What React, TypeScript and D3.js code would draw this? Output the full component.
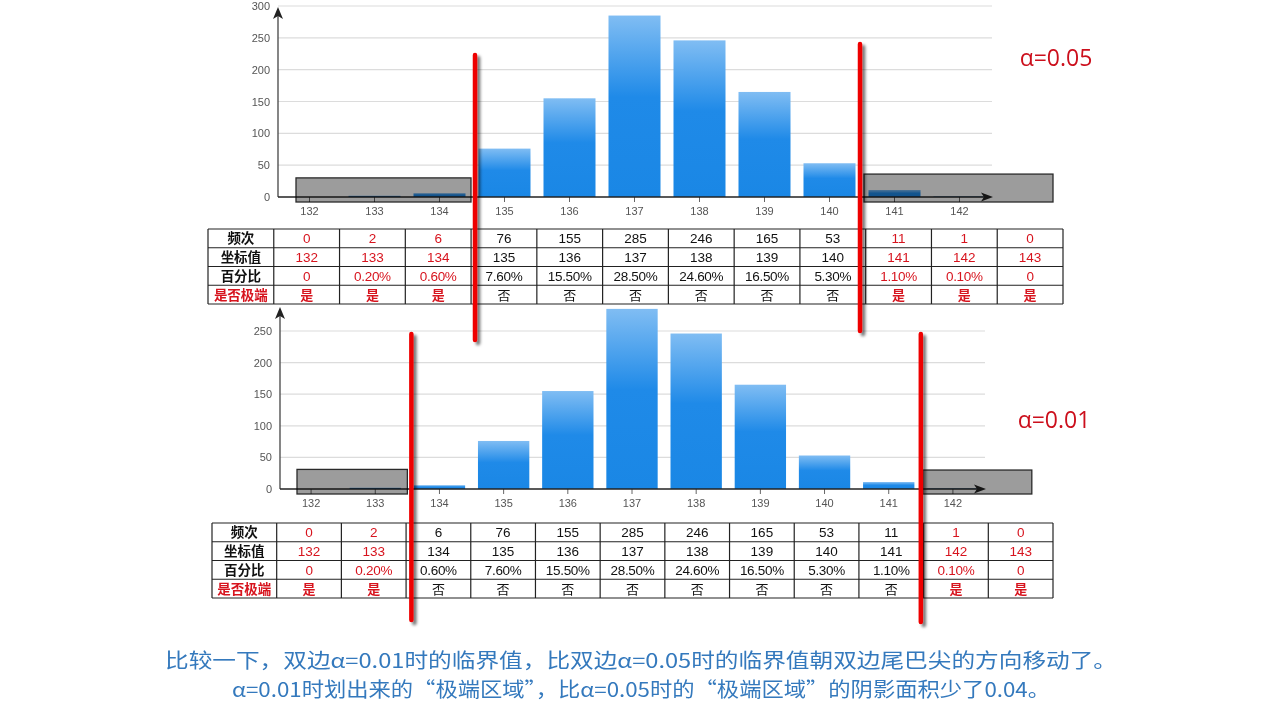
import React from 'react';
import * as d3 from 'd3';

// chart data
const categories = ['132', '133', '134', '135', '136', '137', '138', '139', '140', '141', '142'];
const tableValues = ['132', '133', '134', '135', '136', '137', '138', '139', '140', '141', '142', '143'];
const freq = [0, 2, 6, 76, 155, 285, 246, 165, 53, 11, 1, 0];
const percents = ['0', '0.20%', '0.60%', '7.60%', '15.50%', '28.50%', '24.60%', '16.50%', '5.30%', '1.10%', '0.10%', '0'];
const extremeTop = [1, 1, 1, 0, 0, 0, 0, 0, 0, 1, 1, 1];
const extremeBottom = [1, 1, 0, 0, 0, 0, 0, 0, 0, 0, 1, 1];
const rowLabels = ['频次', '坐标值', '百分比', '是否极端'];
const yTicksTop = [0, 50, 100, 150, 200, 250, 300];
const yTicksBottom = [0, 50, 100, 150, 200, 250];

const RED = '#d7141e';
const TXT = '#111';
const CJK = '"Noto Sans CJK SC", "Noto Sans", sans-serif';
const LAT = '"Liberation Sans", Arial, sans-serif';

type PanelProps = {
  range: [number, number];
  base: number;
  top300: number;
  ticks: number[];
  arrowTop: number;
  leftCut: number; // index of first non-extreme category
  rightCut: number; // index of first extreme category on the right
  leftNudge: number;
  boxTop: number;
  rightBoxTop: number;
  leftBoxStart: number;
  rightBoxWidth: number;
};

const Panel = (p: PanelProps) => {
  const x = d3.scaleBand<string>().domain(categories).range(p.range).paddingInner(0.2).paddingOuter(0.1);
  const y = d3.scaleLinear().domain([0, 300]).range([p.base, p.top300]);
  const xb = d3.scaleBand<string>().domain(categories).range(p.range);
  const axisX = p.range[0] + 1;
  const leftX = (xb(categories[p.leftCut]) as number) + p.leftNudge;
  const rightX = xb(categories[p.rightCut]) as number;
  return (
    <g>
      {p.ticks.filter(t => t > 0).map(t => (
        <line key={t} x1={axisX} x2={p.range[1]} y1={y(t)} y2={y(t)} stroke="#dcdcdc" strokeWidth={1.2} />
      ))}
      {p.ticks.map(t => (
        <text key={t} x={axisX - 8} y={y(t) + 4} textAnchor="end" fontSize={11} fill="#555" fontFamily={LAT}>{t}</text>
      ))}
      {categories.map((c, i) => (
        <rect key={c} x={x(c)} y={y(freq[i])} width={x.bandwidth()} height={p.base - y(freq[i])} fill="url(#barGrad)" />
      ))}
      {categories.map(c => (
        <g key={c}>
          <line x1={(xb(c) as number) + xb.bandwidth() / 2} x2={(xb(c) as number) + xb.bandwidth() / 2} y1={p.base} y2={p.base + 5} stroke="#666" />
          <text x={(xb(c) as number) + xb.bandwidth() / 2} y={p.base + 18} textAnchor="middle" fontSize={11} fill="#555" fontFamily={LAT}>{c}</text>
        </g>
      ))}
      {/* y axis with arrow */}
      <line x1={axisX} x2={axisX} y1={p.base} y2={p.arrowTop + 6} stroke="#444" strokeWidth={1.3} />
      <path d={`M${axisX},${p.arrowTop} L${axisX - 5},${p.arrowTop + 12} L${axisX},${p.arrowTop + 9} L${axisX + 5},${p.arrowTop + 12} Z`} fill="#222" />
      {/* x axis with arrow */}
      <line x1={axisX} x2={p.range[1] - 4} y1={p.base} y2={p.base} stroke="#222" strokeWidth={1.3} />
      <path d={`M${p.range[1] + 1},${p.base} L${p.range[1] - 11},${p.base - 4.5} L${p.range[1] - 8},${p.base} L${p.range[1] - 11},${p.base + 4.5} Z`} fill="#222" />
      {/* shaded extreme regions */}
      <rect x={p.range[0] + p.leftBoxStart} y={y(p.boxTop)} width={leftX - 4 - p.range[0] - p.leftBoxStart} height={p.base + 5 - y(p.boxTop)}
        fill="#9c9c9c" stroke="#2a2a2a" strokeWidth={1.3} style={{ mixBlendMode: 'multiply' }} />
      <rect x={rightX + 2} y={y(p.rightBoxTop)} width={p.rightBoxWidth} height={p.base + 5 - y(p.rightBoxTop)}
        fill="#9c9c9c" stroke="#2a2a2a" strokeWidth={1.3} style={{ mixBlendMode: 'multiply' }} />
    </g>
  );
};

const CritLines = ({ xs, tops, bottoms }: { xs: number[]; tops: number[]; bottoms: number[] }) => (
  <g filter="url(#redShadow)">
    {xs.map((xv, i) => (
      <line key={i} x1={xv} x2={xv} y1={tops[i]} y2={bottoms[i]} stroke="#ee0000" strokeWidth={4.5} strokeLinecap="round" />
    ))}
  </g>
);

type TableProps = { left: number; right: number; top: number; extreme: number[] };

const Table = ({ left, right, top, extreme }: TableProps) => {
  const cols = d3.range(13);
  const x = d3.scaleBand<number>().domain(cols).range([left, right]);
  const rowH = 18.75;
  const rows = [freq.map(String), tableValues, percents, extreme.map(e => (e ? '是' : '否'))];
  const bottom = top + rowH * 4;
  return (
    <g>
      {d3.range(5).map(r => (
        <line key={'h' + r} x1={left} x2={right} y1={top + r * rowH} y2={top + r * rowH} stroke="#222" strokeWidth={1.2} />
      ))}
      {d3.range(14).map(c => (
        <line key={'v' + c} x1={left + c * x.bandwidth()} x2={left + c * x.bandwidth()} y1={top} y2={bottom} stroke="#222" strokeWidth={1.2} />
      ))}
      {rowLabels.map((lab, r) => (
        <text key={lab} x={(x(0) as number) + x.bandwidth() / 2} y={top + r * rowH + rowH / 2 + 5} textAnchor="middle"
          fontSize={13.5} fontWeight="bold" fontFamily={CJK} fill={r === 3 ? RED : TXT}>{lab}</text>
      ))}
      {rows.map((row, r) => row.map((v, i) => (
        <text key={r + '-' + i} x={(x(i + 1) as number) + x.bandwidth() / 2} y={top + r * rowH + rowH / 2 + 5} textAnchor="middle"
          fontSize={r === 3 ? 13 : 13.5} fontFamily={r === 3 ? CJK : LAT}
          fontWeight={r === 3 && extreme[i] ? 'bold' : 'normal'}
          fill={extreme[i] ? RED : TXT} letterSpacing={r === 2 ? -0.3 : 0}>{v}</text>
      )))}
    </g>
  );
};

export default function App() {
  // critical line positions follow the category boundaries of each chart
  const topBand = d3.scaleBand<string>().domain(categories).range([277, 992]);
  const botBand = d3.scaleBand<string>().domain(categories).range([279, 985]);
  const topL = (topBand('135') as number) + 3;
  const topR = (topBand('141') as number) - 2;
  const botL = (botBand('134') as number) + 4;
  const botR = botBand('142') as number;
  return (
    <div style={{ position: 'fixed', left: 0, top: 0, width: 1280, height: 720, background: '#fff' }}>
      <svg width={1280} height={720} style={{ display: 'block' }}>
        <defs>
          <linearGradient id="barGrad" x1="0" y1="0" x2="0" y2="1">
            <stop offset="0" stopColor="#80bdf3" />
            <stop offset="0.45" stopColor="#1f8ae8" />
            <stop offset="1" stopColor="#1a87e5" />
          </linearGradient>
          <filter id="redShadow" x="-200%" y="-10%" width="500%" height="120%">
            <feDropShadow dx={3} dy={3} stdDeviation={1.6} floodColor="#000" floodOpacity={0.55} />
          </filter>
        </defs>
        <rect width={1280} height={720} fill="#fff" />

        <Panel range={[277, 992]} base={197} top300={6} ticks={yTicksTop} arrowTop={7}
          leftCut={3} rightCut={9} leftNudge={3} boxTop={30} rightBoxTop={36} leftBoxStart={19} rightBoxWidth={189} />
        <Table left={208} right={1063} top={229} extreme={extremeTop} />

        <Panel range={[279, 985]} base={489} top300={299.4} ticks={yTicksBottom} arrowTop={307}
          leftCut={2} rightCut={10} leftNudge={4} boxTop={31} rightBoxTop={30} leftBoxStart={18} rightBoxWidth={109} />
        <Table left={212} right={1053} top={523} extreme={extremeBottom} />

        <CritLines xs={[topL, topR]} tops={[55, 44]} bottoms={[340, 331]} />
        <CritLines xs={[botL, botR]} tops={[334, 334]} bottoms={[620, 622]} />

        <text x={1056} y={66} textAnchor="middle" fontSize={23} fill="#cc0f1c" fontFamily={'"Open Sans", sans-serif'}>α=0.05</text>
        <text x={1054} y={428} textAnchor="middle" fontSize={23} fill="#cc0f1c" fontFamily={'"Open Sans", sans-serif'}>α=0.01</text>

        <text x={641} y={668} textAnchor="middle" fontSize={20} fill="#3479bd" fontFamily={CJK}
          textLength={952} lengthAdjust="spacingAndGlyphs">比较一下，双边α=0.01时的临界值，比双边α=0.05时的临界值朝双边尾巴尖的方向移动了。</text>
        <text x={641} y={697} textAnchor="middle" fontSize={20} fill="#3479bd" fontFamily={CJK}
          textLength={818} lengthAdjust="spacingAndGlyphs">α=0.01时划出来的“极端区域”，比α=0.05时的“极端区域”的阴影面积少了0.04。</text>
      </svg>
    </div>
  );
}
